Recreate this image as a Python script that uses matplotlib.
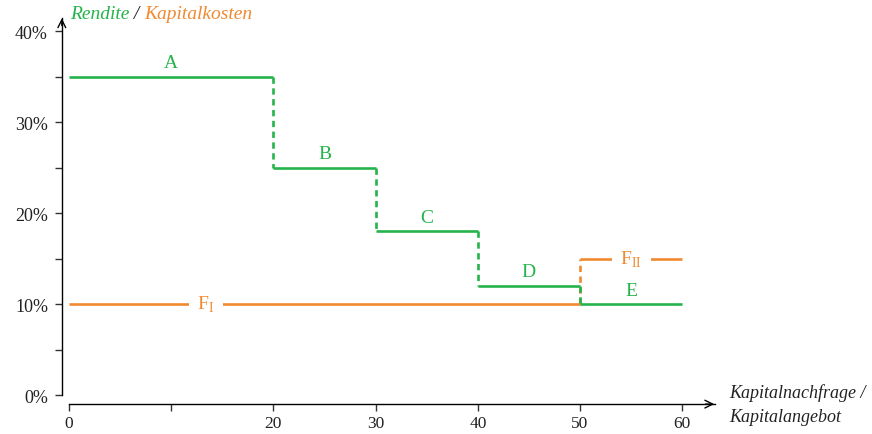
import matplotlib
matplotlib.use("Agg")
import matplotlib.pyplot as plt

plt.rcParams['font.family'] = ['Liberation Serif', 'DejaVu Serif']
plt.rcParams['mathtext.fontset'] = 'custom'
plt.rcParams['mathtext.rm'] = 'Liberation Serif'

GREEN = '#25b34b'
ORANGE = '#f0892f'

# Returns (Rendite) of the investment projects, step function
proj_labels = ['A', 'B', 'C', 'D', 'E']
proj_start = [0, 20, 30, 40, 50]
proj_end = [20, 30, 40, 50, 60]
proj_rate = [35, 25, 18, 12, 10]

# Capital cost (Kapitalkosten) of the financing options
fin_labels = [r'$\mathrm{F}_{\mathrm{I}}$', r'$\mathrm{F}_{\mathrm{II}}$']
fin_start = [0, 50]
fin_end = [50, 60]
fin_rate = [10, 15]

xticks = [0, 10, 20, 30, 40, 50, 60]
xtick_labels = ['0', '', '20', '30', '40', '50', '60']
yticks = [0, 5, 10, 15, 20, 25, 30, 35, 40]
ytick_labels = ['0%', '', '10%', '', '20%', '', '30%', '', '40%']

fig = plt.figure(figsize=(8.72, 4.35), dpi=100)
ax = fig.add_axes([0.0709, 0.0687, 0.7525, 0.910])
ax.set_xlim(-0.7, 63.5)
ax.set_ylim(-1, 42.5)

lw = 1.9
dash = (0, (2.4, 1.7))

# capital cost lines
for i, (s, e, r) in enumerate(zip(fin_start, fin_end, fin_rate)):
    ax.plot([s, e], [r, r], color=ORANGE, lw=lw, solid_capstyle='butt', zorder=2)
    if i > 0:
        ax.plot([s, s], [fin_rate[i - 1], r], color=ORANGE, lw=lw, ls=dash, zorder=2)
fin_label_x = [13.4, 55]
for lab, xl, r in zip(fin_labels, fin_label_x, fin_rate):
    ax.text(xl, r, lab, color=ORANGE, fontsize=14, ha='center', va='center',
            bbox=dict(boxstyle='square,pad=0.45', fc='white', ec='none'), zorder=3)

# project return lines
for i, (s, e, r) in enumerate(zip(proj_start, proj_end, proj_rate)):
    ax.plot([s, e], [r, r], color=GREEN, lw=lw, solid_capstyle='butt', zorder=4)
    if i > 0:
        ax.plot([s, s], [proj_rate[i - 1], r], color=GREEN, lw=lw, ls=dash, zorder=4)
    ax.text((s + e) / 2, r + 0.6, proj_labels[i], color=GREEN, fontsize=14,
            ha='center', va='bottom', zorder=5)

# axes
for sp in ['top', 'right']:
    ax.spines[sp].set_visible(False)
ax.spines['bottom'].set_position(('data', -1))
ax.spines['bottom'].set_bounds(0, 63.2)
ax.spines['left'].set_position(('data', -0.7))
ax.spines['left'].set_bounds(0, 41.4)
for sp in ['bottom', 'left']:
    ax.spines[sp].set_linewidth(1.0)
ax.set_xticks(xticks)
ax.set_xticklabels(xtick_labels)
ax.set_yticks(yticks)
ax.set_yticklabels(ytick_labels)
ax.tick_params(axis='both', direction='out', length=5, width=1.0, colors='#333333',
               labelcolor='#222222', labelsize=13)
ax.tick_params(axis='x', pad=3, labelsize=12.5)
ax.tick_params(axis='y', pad=5)

# arrow heads
ax.annotate('', xy=(63.4, -1), xytext=(62.0, -1),
            arrowprops=dict(arrowstyle='->', lw=1.0, color='black', mutation_scale=14),
            annotation_clip=False)
ax.annotate('', xy=(-0.7, 41.7), xytext=(-0.7, 40.3),
            arrowprops=dict(arrowstyle='->', lw=1.0, color='black', mutation_scale=14),
            annotation_clip=False)

# axis titles
t1 = ax.text(0.1, 41.9, 'Rendite', color=GREEN, fontsize=14, style='italic',
             ha='left', va='center')
t2 = ax.annotate(' / ', xy=(1, 0), xycoords=t1, va='bottom', ha='left',
                 fontsize=14, style='italic', color='#222222')
ax.annotate('Kapitalkosten', xy=(1, 0), xycoords=t2, va='bottom', ha='left',
            fontsize=14, style='italic', color=ORANGE)
ax.text(64.6, -1, 'Kapitalnachfrage /\nKapitalangebot', fontsize=13, style='italic',
        ha='left', va='center', linespacing=1.5, color='#222222')

fig.savefig('out.png', dpi=100)
